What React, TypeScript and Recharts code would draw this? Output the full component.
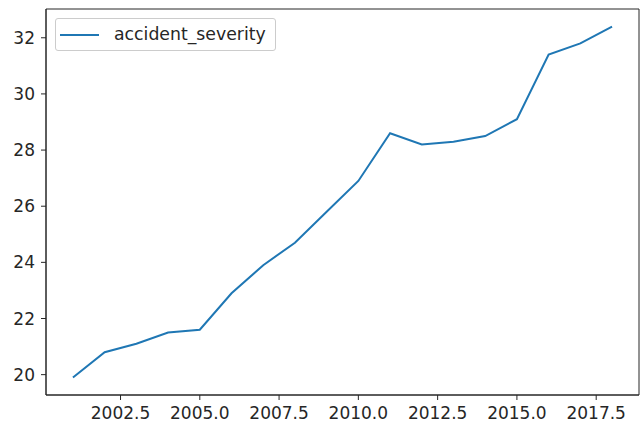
import React from "react";
import { LineChart, Line, XAxis, YAxis, Legend, CartesianGrid } from "recharts";

const years = [2001, 2002, 2003, 2004, 2005, 2006, 2007, 2008, 2009, 2010, 2011, 2012, 2013, 2014, 2015, 2016, 2017, 2018];
const severity = [19.9, 20.8, 21.1, 21.5, 21.6, 22.9, 23.9, 24.7, 25.8, 26.9, 28.6, 28.2, 28.3, 28.5, 29.1, 31.4, 31.8, 32.4];

const xTicks = [2002.5, 2005, 2007.5, 2010, 2012.5, 2015, 2017.5];
const yTicks = [20, 22, 24, 26, 28, 30, 32];
const xDomain: [number, number] = [2000.15, 2018.85];
const yDomain: [number, number] = [19.275, 33.025];

const data = years.map((year, i) => ({ year, accident_severity: severity[i] }));

const FONT = "DejaVu Sans, sans-serif";
const LINE_COLOR = "#1f77b4";
const INK = "#262626";
const tickStyle = { fill: INK, fontSize: 17, fontFamily: FONT };

function LegendBox() {
  return (
    <div
      style={{
        display: "flex",
        alignItems: "center",
        background: "rgba(255,255,255,0.8)",
        border: "1px solid #cccccc",
        borderRadius: 3,
        padding: "6px 9px 6px 4px",
        fontFamily: FONT,
        fontSize: 17.3,
        color: INK,
        lineHeight: "19px",
      }}
    >
      <svg width={39} height={4} style={{ marginRight: 15 }}>
        <line x1={0} y1={2} x2={39} y2={2} stroke={LINE_COLOR} strokeWidth={2} />
      </svg>
      <span>accident_severity</span>
    </div>
  );
}

export default function App() {
  return (
    <div style={{ position: "absolute", left: 0, top: 0, background: "#fff" }}>
      <LineChart width={643} height={432} data={data} margin={{ top: 9, right: 4, left: 0, bottom: 0 }}>
        {/* matplotlib-style box frame drawn on the plot edges */}
        <CartesianGrid
          stroke={INK}
          strokeDasharray="0"
          horizontalCoordinatesGenerator={({ offset }: any) => [offset.top, offset.top + offset.height]}
          verticalCoordinatesGenerator={({ offset }: any) => [offset.left, offset.left + offset.width]}
        />
        <XAxis
          dataKey="year"
          type="number"
          domain={xDomain}
          ticks={xTicks}
          allowDataOverflow
          tickFormatter={(v: number) => v.toFixed(1)}
          tick={tickStyle}
          tickSize={5}
          tickMargin={7}
          height={37}
          axisLine={{ stroke: INK }}
          tickLine={{ stroke: INK }}
        />
        <YAxis
          type="number"
          domain={yDomain}
          ticks={yTicks}
          allowDataOverflow
          tick={tickStyle}
          tickSize={5}
          tickMargin={6}
          width={46}
          axisLine={{ stroke: INK }}
          tickLine={{ stroke: INK }}
        />
        <Legend
          layout="horizontal"
          verticalAlign="middle"
          align="center"
          content={() => <LegendBox />}
          wrapperStyle={{ top: 18, left: 55, width: "auto" }}
        />
        <Line
          type="linear"
          dataKey="accident_severity"
          stroke={LINE_COLOR}
          strokeWidth={2}
          dot={false}
          isAnimationActive={false}
        />
      </LineChart>
    </div>
  );
}
